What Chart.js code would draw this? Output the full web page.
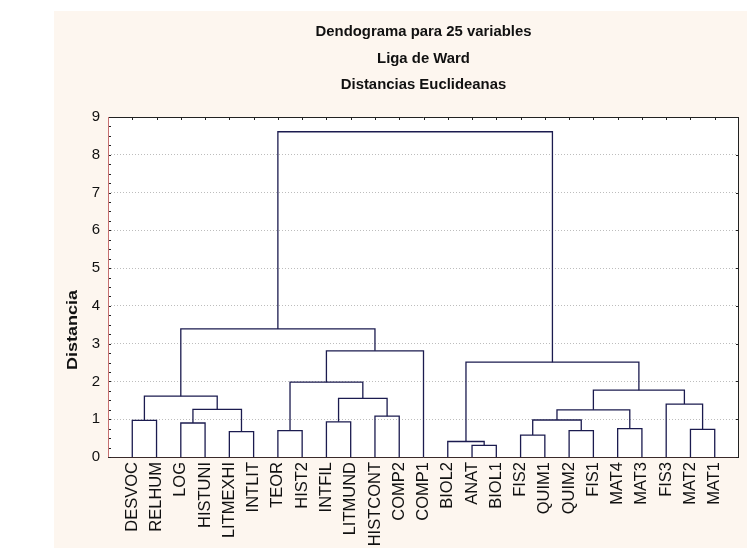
<!DOCTYPE html>
<html>
<head>
<meta charset="utf-8">
<script src="https://cdn.jsdelivr.net/npm/chart.js@4/dist/chart.umd.min.js"></script>
<style>
  html, body { margin: 0; padding: 0; background: #fff; }
  #wrap { width: 748px; height: 554px; }
</style>
</head>
<body>
<div id="wrap"><canvas id="dendro" width="748" height="554"></canvas></div>
<script>
// Leaves in display order
const leafLabels = ['DESVOC', 'RELHUM', 'LOG', 'HISTUNI', 'LITMEXHI', 'INTLIT', 'TEOR', 'HIST2',
  'INTFIL', 'LITMUND', 'HISTCONT', 'COMP2', 'COMP1', 'BIOL2', 'ANAT', 'BIOL1', 'FIS2', 'QUIM1',
  'QUIM2', 'FIS1', 'MAT4', 'MAT3', 'FIS3', 'MAT2', 'MAT1'];

// Linkage steps: node 25+k joins mergeLeft[k] and mergeRight[k] at mergeHeight[k]
const mergeLeft   = [14, 13, 16, 4, 6, 18, 23, 20, 2, 8, 0, 27, 10, 36, 33, 22, 34, 35, 38, 29, 26, 44, 42, 47];
const mergeRight  = [15, 25, 17, 5, 7, 19, 24, 21, 3, 9, 1, 30, 11, 32, 28, 31, 37, 39, 40, 41, 43, 12, 46, 45];
const mergeHeight = [0.31, 0.41, 0.58, 0.67, 0.70, 0.70, 0.73, 0.75, 0.90, 0.93, 0.97, 0.98, 1.08,
  1.25, 1.26, 1.40, 1.55, 1.61, 1.77, 1.98, 2.51, 2.81, 3.39, 8.61];

const yTicks = [0, 1, 2, 3, 4, 5, 6, 7, 8, 9];
const titleLines = ['Dendograma para 25 variables', 'Liga de Ward', 'Distancias Euclideanas'];
const yTitle = 'Distancia';

// node positions (leaf i sits at x = i+1)
const nodeX = leafLabels.map((_, i) => i + 1);
const nodeY = leafLabels.map(() => 0);
const datasets = [];
mergeLeft.forEach((a, k) => {
  const b = mergeRight[k], h = mergeHeight[k];
  datasets.push({
    data: [{x: nodeX[a], y: nodeY[a]}, {x: nodeX[a], y: h}, {x: nodeX[b], y: h}, {x: nodeX[b], y: nodeY[b]}],
    borderColor: '#1b1b4f',
    borderWidth: 1.3,
    pointRadius: 0,
    tension: 0,
    fill: false
  });
  nodeX.push((nodeX[a] + nodeX[b]) / 2);
  nodeY.push(h);
});

const SANS = "'Liberation Sans', Arial, sans-serif";

const framePlugin = {
  id: 'frame',
  beforeDraw(chart) {
    const c = chart.ctx;
    c.save();
    c.fillStyle = '#fdf6ef';
    c.fillRect(54, 11, 693, 537);
    const a = chart.chartArea;
    c.fillStyle = '#ffffff';
    c.fillRect(a.left, a.top, a.right - a.left, a.bottom - a.top);
    c.restore();
  },
  afterDraw(chart) {
    const c = chart.ctx, a = chart.chartArea;
    const xs = chart.scales.x, ys = chart.scales.y;
    c.save();
    // top and right frame
    c.strokeStyle = '#222';
    c.lineWidth = 1;
    c.beginPath();
    c.moveTo(a.left, a.top + 0.5); c.lineTo(a.right, a.top + 0.5);
    c.moveTo(a.right - 0.5, a.top); c.lineTo(a.right - 0.5, a.bottom);
    c.stroke();
    // bottom axis
    c.strokeStyle = '#3a2a2a';
    c.beginPath();
    c.moveTo(a.left, a.bottom + 0.5); c.lineTo(a.right, a.bottom + 0.5);
    c.stroke();
    // left axis
    c.strokeStyle = '#c77070';
    c.beginPath();
    c.moveTo(a.left + 0.5, a.top); c.lineTo(a.left + 0.5, a.bottom);
    c.stroke();
    // ticks
    c.strokeStyle = '#222';
    c.beginPath();
    nodeX.slice(0, leafLabels.length).forEach(v => {
      const px = Math.round(xs.getPixelForValue(v)) + 0.5;
      c.moveTo(px, a.top); c.lineTo(px, a.top + 3);
    });
    yTicks.forEach(v => {
      const py = Math.round(ys.getPixelForValue(v)) + 0.5;
      c.moveTo(a.right, py); c.lineTo(a.right - 3, py);
    });
    for (let v = 0; v <= 9; v += 0.25) {
      const py = Math.round(ys.getPixelForValue(v)) + 0.5;
      c.moveTo(a.left + 1, py); c.lineTo(a.left + 3, py);
    }
    c.stroke();
    // title lines
    c.fillStyle = '#111';
    c.font = 'bold 15px ' + SANS;
    c.textAlign = 'center';
    c.textBaseline = 'middle';
    const sx = 216 / c.measureText(titleLines[0]).width;
    const cx = (a.left + a.right) / 2;
    [32, 58.5, 85].forEach((y, i) => {
      c.save();
      c.translate(cx, y);
      c.scale(sx, 1);
      c.fillText(titleLines[i], 0, 0);
      c.restore();
    });
    // y axis title
    c.font = 'bold 14px ' + SANS;
    const sy = 80 / c.measureText(yTitle).width;
    c.save();
    c.translate(73, 330);
    c.rotate(-Math.PI / 2);
    c.scale(sy, 1);
    c.fillText(yTitle, 0, 0);
    c.restore();
    c.restore();
  }
};

new Chart(document.getElementById('dendro').getContext('2d'), {
  type: 'line',
  data: { datasets: datasets },
  options: {
    responsive: false,
    animation: false,
    layout: { padding: { left: 54, top: 117, right: 9, bottom: 0 } },
    plugins: { legend: { display: false }, tooltip: { enabled: false }, title: { display: false } },
    scales: {
      x: {
        type: 'linear',
        min: 0,
        max: leafLabels.length + 1,
        afterBuildTicks: s => { s.ticks = leafLabels.map((_, i) => ({ value: i + 1 })); },
        afterFit: s => { s.height = 97; },
        grid: { display: false, drawTicks: false },
        border: { display: false },
        ticks: {
          autoSkip: false,
          minRotation: 90,
          maxRotation: 90,
          padding: 5,
          color: '#111',
          font: { family: SANS, size: 16.5 },
          callback: v => leafLabels[v - 1]
        }
      },
      y: {
        min: 0,
        max: 9,
        afterBuildTicks: s => { s.ticks = yTicks.map(v => ({ value: v })); },
        afterFit: s => { s.width = 54; },
        grid: { color: '#bdbdbd', drawTicks: false },
        border: { display: false, dash: [1, 2] },
        ticks: {
          padding: 8,
          color: '#111',
          font: { family: SANS, size: 15 }
        }
      }
    }
  },
  plugins: [framePlugin]
});
</script>
</body>
</html>
